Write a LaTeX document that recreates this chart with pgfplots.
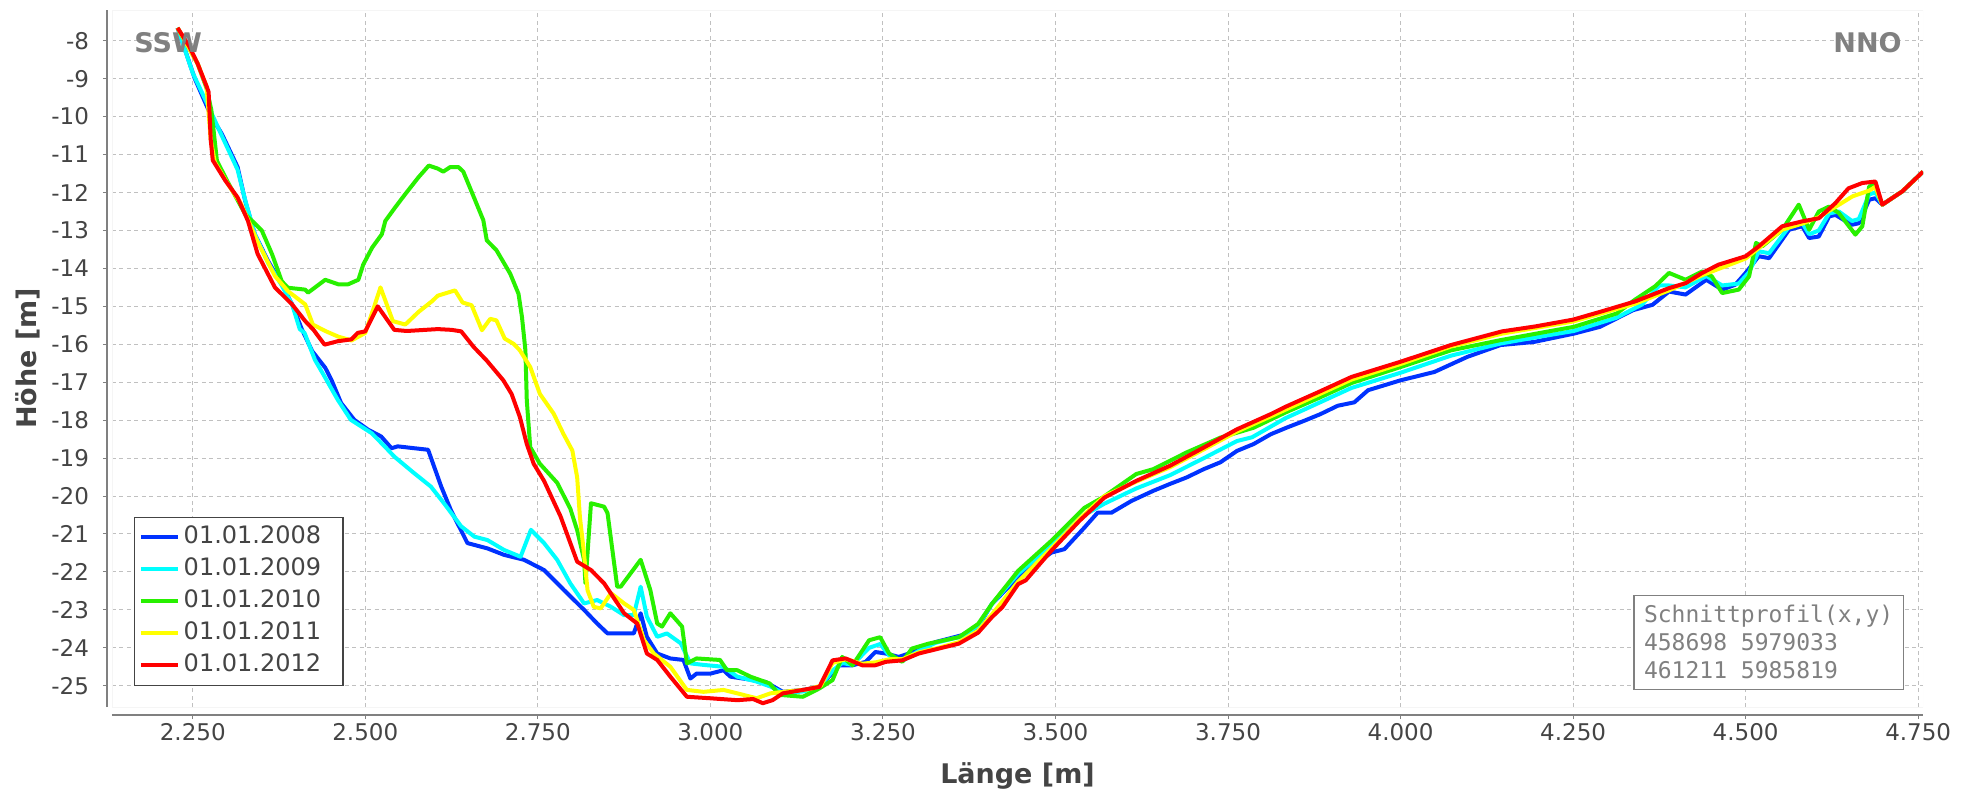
\documentclass[border=0pt]{standalone}
\usepackage{fontspec}
\setmainfont{DejaVu Sans}
\newfontfamily\monofont{DejaVu Sans Mono}
\usepackage{pgfplots}
\pgfplotsset{compat=1.18}

\definecolor{s2008}{RGB}{0,50,255}
\definecolor{s2009}{RGB}{0,255,255}
\definecolor{s2010}{RGB}{40,240,0}
\definecolor{s2011}{RGB}{255,255,0}
\definecolor{s2012}{RGB}{255,0,0}
\definecolor{txtgray}{RGB}{68,68,68}
\definecolor{axgray}{RGB}{128,128,128}
\definecolor{gridgray}{RGB}{192,192,192}

\newcommand{\entry}[1]{\makebox[75.5pt][l]{#1}}

\begin{document}
\begin{tikzpicture}
  \begin{axis}[
      scale only axis,
      width=905.5pt, height=348.5pt,
      xmin=2.133, xmax=4.757,
      ymin=-25.56, ymax=-7.19,
      axis x line=bottom, axis y line=left,
      axis x line shift=4pt, axis y line shift=2.5pt,
      axis line style={-, draw=axgray, line width=1pt},
      xtick={2.25,2.5,2.75,3,3.25,3.5,3.75,4,4.25,4.5,4.75},
      ytick={-25,-24,...,-8},
      xticklabel={\pgfmathprintnumber[fixed,fixed zerofill,precision=3]{\tick}},
      /pgf/number format/assume math mode=true,
      tick label style={font=\fontsize{11.5}{13}\selectfont, text=txtgray},
      xticklabel style={yshift=1.5pt},
      yticklabel style={xshift=-3.5pt},
      tick style={draw=axgray, line width=0.5pt},
      major tick length=2pt,
      tick align=outside,
      grid=major,
      major grid style={draw=gridgray, line width=0.5pt, dash pattern=on 2pt off 1.75pt},
      xlabel={Länge [m]}, ylabel={Höhe [m]},
      every axis x label/.style={at={(rel axis cs:0.5,0)}, yshift=-34.5pt, anchor=center,
        font=\bfseries\fontsize{13.5}{16}\selectfont, text=txtgray},
      every axis y label/.style={at={(rel axis cs:0,0.5)}, xshift=-42pt, rotate=90, anchor=center,
        font=\bfseries\fontsize{13.5}{16}\selectfont, text=txtgray},
      every axis plot/.append style={line width=2pt, line join=round, mark=none},
      legend cell align=left,
      legend image code/.code={\draw[#1, line width=2pt] (0pt,0pt) -- (18.5pt,0pt);},
      legend style={at={(rel axis cs:0,0)}, anchor=south west, xshift=11pt, yshift=10.5pt,
        draw=txtgray, line width=0.75pt, fill=white, inner xsep=2pt, inner ysep=2pt,
        font=\fontsize{12}{14}\selectfont, text=txtgray, row sep=0pt,
        nodes={inner sep=2pt, text height=9pt, text depth=3pt}},
    ]
    \coordinate (bl) at (rel axis cs:0,0);
    \coordinate (tr) at (rel axis cs:1,1);
    \draw[gray!8] (rel axis cs:0,0) rectangle (rel axis cs:1,1);

    % 01.01.2008
    \addplot[s2008] coordinates {
        (2.228,-7.66) (2.253,-9.0) (2.277,-10.0) (2.292,-10.45) (2.315,-11.33)
        (2.326,-12.22) (2.34,-13.1) (2.359,-13.8) (2.379,-14.42) (2.394,-14.95)
        (2.408,-15.6) (2.423,-16.18) (2.442,-16.62) (2.451,-16.94) (2.465,-17.55)
        (2.484,-17.99) (2.504,-18.25) (2.523,-18.43) (2.538,-18.74) (2.547,-18.69)
        (2.571,-18.74) (2.591,-18.78) (2.61,-19.75) (2.624,-20.37) (2.648,-21.24)
        (2.677,-21.38) (2.701,-21.55) (2.73,-21.68) (2.759,-21.95) (2.788,-22.48)
        (2.817,-23.0) (2.836,-23.36) (2.851,-23.62) (2.889,-23.62) (2.899,-23.09)
        (2.908,-23.71) (2.923,-24.15) (2.942,-24.28) (2.961,-24.32) (2.971,-24.81)
        (2.98,-24.68) (3.0,-24.68) (3.019,-24.59) (3.029,-24.76) (3.062,-24.85)
        (3.08,-24.9) (3.105,-25.16) (3.134,-25.11) (3.158,-25.03) (3.187,-24.46)
        (3.206,-24.46) (3.225,-24.37) (3.239,-24.11) (3.254,-24.15) (3.273,-24.24)
        (3.302,-24.06) (3.326,-23.85) (3.364,-23.67) (3.388,-23.45) (3.408,-22.84)
        (3.446,-22.14) (3.494,-21.49) (3.513,-21.4) (3.542,-20.83) (3.561,-20.44)
        (3.581,-20.44) (3.61,-20.13) (3.642,-19.86) (3.666,-19.68) (3.69,-19.51)
        (3.715,-19.29) (3.739,-19.11) (3.763,-18.81) (3.787,-18.63) (3.812,-18.37)
        (3.836,-18.19) (3.86,-18.02) (3.884,-17.84) (3.909,-17.62) (3.933,-17.53)
        (3.953,-17.21) (4.0,-16.95) (4.049,-16.73) (4.097,-16.33) (4.145,-16.02)
        (4.193,-15.94) (4.251,-15.72) (4.289,-15.54) (4.337,-15.1) (4.365,-14.96)
        (4.389,-14.61) (4.413,-14.69) (4.443,-14.3) (4.466,-14.56) (4.485,-14.43)
        (4.5,-14.12) (4.519,-13.68) (4.534,-13.73) (4.563,-12.98) (4.582,-12.89)
        (4.592,-13.2) (4.606,-13.16) (4.621,-12.63) (4.63,-12.59) (4.654,-12.85)
        (4.664,-12.81) (4.679,-12.19) (4.688,-12.15) (4.698,-12.32) (4.727,-11.97)
        (4.757,-11.45)
      };
    \addlegendentry{\entry{01.01.2008}}

    % 01.01.2009
    \addplot[s2009] coordinates {
        (2.228,-7.66) (2.25,-8.85) (2.272,-9.7) (2.292,-10.5) (2.315,-11.4)
        (2.326,-12.2) (2.34,-13.1) (2.359,-13.85) (2.379,-14.45) (2.394,-14.95)
        (2.405,-15.6) (2.412,-15.7) (2.427,-16.41) (2.441,-16.85) (2.46,-17.46)
        (2.479,-17.99) (2.509,-18.34) (2.528,-18.69) (2.542,-18.96) (2.571,-19.4)
        (2.595,-19.75) (2.614,-20.19) (2.639,-20.8) (2.658,-21.07) (2.677,-21.16)
        (2.701,-21.42) (2.725,-21.6) (2.74,-20.89) (2.759,-21.24) (2.778,-21.68)
        (2.797,-22.3) (2.817,-22.83) (2.836,-22.74) (2.856,-22.92) (2.875,-23.14)
        (2.889,-23.14) (2.899,-22.39) (2.908,-23.18) (2.923,-23.71) (2.937,-23.62)
        (2.957,-23.88) (2.971,-24.41) (2.99,-24.45) (3.019,-24.5) (3.039,-24.76)
        (3.067,-24.89) (3.087,-25.02) (3.106,-25.2) (3.134,-25.15) (3.158,-25.05)
        (3.177,-24.6) (3.191,-24.4) (3.206,-24.45) (3.23,-24.0) (3.246,-23.9)
        (3.259,-24.2) (3.278,-24.35) (3.302,-24.08) (3.326,-23.87) (3.364,-23.7)
        (3.388,-23.42) (3.408,-22.84) (3.446,-22.05) (3.494,-21.3) (3.542,-20.5)
        (3.571,-20.2) (3.617,-19.8) (3.666,-19.45) (3.715,-19.0) (3.763,-18.55)
        (3.785,-18.45) (3.833,-17.95) (3.881,-17.55) (3.929,-17.15) (4.0,-16.75)
        (4.073,-16.3) (4.145,-15.98) (4.195,-15.82) (4.251,-15.65) (4.313,-15.3)
        (4.35,-14.95) (4.375,-14.45) (4.389,-14.45) (4.413,-14.5) (4.443,-14.2)
        (4.466,-14.45) (4.49,-14.4) (4.505,-14.1) (4.519,-13.55) (4.534,-13.6)
        (4.563,-12.9) (4.582,-12.8) (4.592,-13.1) (4.606,-13.0) (4.621,-12.55)
        (4.635,-12.5) (4.654,-12.75) (4.664,-12.7) (4.679,-12.05) (4.688,-12.0)
        (4.698,-12.32) (4.727,-11.97) (4.757,-11.45)
      };
    \addlegendentry{\entry{01.01.2009}}

    % 01.01.2010
    \addplot[s2010] coordinates {
        (2.228,-7.66) (2.257,-8.6) (2.27,-9.25) (2.277,-9.83) (2.285,-11.16)
        (2.3,-11.7) (2.326,-12.57) (2.35,-13.0) (2.365,-13.63) (2.379,-14.34)
        (2.388,-14.51) (2.413,-14.56) (2.417,-14.64) (2.442,-14.3) (2.461,-14.42)
        (2.475,-14.42) (2.49,-14.3) (2.497,-13.9) (2.51,-13.45) (2.524,-13.1)
        (2.529,-12.75) (2.543,-12.4) (2.558,-12.04) (2.577,-11.6) (2.592,-11.29)
        (2.605,-11.37) (2.613,-11.45) (2.623,-11.33) (2.635,-11.33) (2.642,-11.45)
        (2.657,-12.11) (2.671,-12.73) (2.676,-13.26) (2.69,-13.52) (2.71,-14.14)
        (2.722,-14.67) (2.727,-15.28) (2.732,-16.16) (2.734,-17.48) (2.739,-18.71)
        (2.753,-19.15) (2.778,-19.65) (2.797,-20.33) (2.807,-20.9) (2.817,-21.68)
        (2.819,-22.3) (2.827,-20.19) (2.846,-20.28) (2.851,-20.45) (2.865,-22.39)
        (2.87,-22.39) (2.899,-21.68) (2.913,-22.48) (2.923,-23.36) (2.93,-23.44)
        (2.942,-23.09) (2.959,-23.44) (2.966,-24.41) (2.98,-24.28) (3.014,-24.32)
        (3.024,-24.59) (3.039,-24.59) (3.058,-24.76) (3.086,-24.94) (3.1,-25.24)
        (3.134,-25.29) (3.158,-25.07) (3.177,-24.85) (3.191,-24.24) (3.206,-24.46)
        (3.23,-23.8) (3.246,-23.72) (3.259,-24.15) (3.278,-24.37) (3.292,-24.02)
        (3.316,-23.89) (3.36,-23.72) (3.388,-23.37) (3.408,-22.84) (3.446,-21.97)
        (3.494,-21.18) (3.542,-20.31) (3.569,-20.03) (3.617,-19.42) (3.642,-19.29)
        (3.69,-18.85) (3.739,-18.46) (3.787,-18.2) (3.833,-17.8) (3.881,-17.42)
        (3.929,-17.02) (4.0,-16.6) (4.073,-16.16) (4.145,-15.89) (4.251,-15.54)
        (4.313,-15.19) (4.34,-14.82) (4.369,-14.47) (4.389,-14.12) (4.413,-14.3)
        (4.437,-14.08) (4.451,-14.21) (4.466,-14.65) (4.49,-14.56) (4.505,-14.21)
        (4.515,-13.33) (4.524,-13.42) (4.553,-12.98) (4.577,-12.32) (4.592,-12.98)
        (4.606,-12.5) (4.621,-12.37) (4.635,-12.54) (4.659,-13.11) (4.669,-12.89)
        (4.679,-11.84) (4.687,-11.8) (4.698,-12.32) (4.727,-11.97) (4.757,-11.45)
      };
    \addlegendentry{\entry{01.01.2010}}

    % 01.01.2011
    \addplot[s2011] coordinates {
        (2.228,-7.66) (2.257,-8.6) (2.27,-9.2) (2.276,-10.6) (2.282,-11.2)
        (2.3,-11.75) (2.32,-12.3) (2.344,-13.3) (2.369,-14.2) (2.388,-14.6)
        (2.413,-14.95) (2.424,-15.48) (2.442,-15.65) (2.461,-15.8) (2.48,-15.9)
        (2.5,-15.7) (2.513,-15.0) (2.522,-14.5) (2.54,-15.39) (2.558,-15.48)
        (2.577,-15.15) (2.597,-14.86) (2.605,-14.72) (2.63,-14.58) (2.641,-14.9)
        (2.654,-14.97) (2.669,-15.63) (2.681,-15.33) (2.69,-15.37) (2.702,-15.85)
        (2.715,-15.99) (2.724,-16.16) (2.739,-16.6) (2.753,-17.31) (2.773,-17.83)
        (2.787,-18.36) (2.8,-18.8) (2.807,-19.51) (2.811,-20.56) (2.816,-21.36)
        (2.822,-22.48) (2.831,-22.92) (2.841,-22.96) (2.856,-22.56) (2.875,-22.83)
        (2.889,-23.0) (2.904,-23.8) (2.918,-24.15) (2.942,-24.5) (2.966,-25.11)
        (2.99,-25.16) (3.019,-25.11) (3.039,-25.2) (3.067,-25.33) (3.087,-25.2)
        (3.11,-25.15) (3.14,-25.1) (3.16,-25.0) (3.177,-24.4) (3.196,-24.3)
        (3.22,-24.42) (3.24,-24.38) (3.26,-24.3) (3.278,-24.3) (3.302,-24.12)
        (3.331,-24.0) (3.36,-23.85) (3.388,-23.55) (3.408,-23.12) (3.446,-22.25)
        (3.494,-21.38) (3.535,-20.6) (3.571,-20.0) (3.617,-19.62) (3.666,-19.24)
        (3.715,-18.77) (3.763,-18.3) (3.812,-17.9) (3.86,-17.5) (3.929,-16.93)
        (4.0,-16.52) (4.073,-16.06) (4.147,-15.72) (4.25,-15.4) (4.34,-14.93)
        (4.389,-14.58) (4.437,-14.18) (4.5,-13.74) (4.553,-12.98) (4.582,-12.82)
        (4.606,-12.65) (4.63,-12.38) (4.655,-12.1) (4.679,-11.95) (4.688,-11.85)
        (4.698,-12.32) (4.727,-11.97) (4.757,-11.45)
      };
    \addlegendentry{\entry{01.01.2011}}

    % 01.01.2012
    \addplot[s2012] coordinates {
        (2.228,-7.66) (2.245,-8.15) (2.257,-8.6) (2.27,-9.2) (2.273,-9.35)
        (2.276,-10.6) (2.279,-11.15) (2.297,-11.68) (2.315,-12.13) (2.33,-12.75)
        (2.344,-13.62) (2.369,-14.5) (2.394,-14.95) (2.413,-15.39) (2.425,-15.62)
        (2.441,-16.01) (2.46,-15.92) (2.48,-15.87) (2.489,-15.7) (2.5,-15.66)
        (2.518,-15.0) (2.542,-15.62) (2.56,-15.65) (2.587,-15.62) (2.605,-15.6)
        (2.625,-15.62) (2.639,-15.66) (2.657,-16.07) (2.676,-16.43) (2.7,-16.95)
        (2.712,-17.31) (2.724,-17.92) (2.734,-18.63) (2.744,-19.15) (2.759,-19.6)
        (2.783,-20.54) (2.807,-21.73) (2.827,-21.95) (2.846,-22.3) (2.875,-23.09)
        (2.894,-23.36) (2.908,-24.15) (2.923,-24.32) (2.942,-24.76) (2.966,-25.29)
        (3.0,-25.33) (3.039,-25.38) (3.062,-25.35) (3.076,-25.46) (3.09,-25.38)
        (3.105,-25.2) (3.134,-25.11) (3.158,-25.03) (3.177,-24.33) (3.196,-24.28)
        (3.22,-24.46) (3.239,-24.46) (3.254,-24.37) (3.278,-24.33) (3.302,-24.15)
        (3.331,-24.02) (3.36,-23.89) (3.388,-23.6) (3.408,-23.19) (3.423,-22.93)
        (3.446,-22.32) (3.457,-22.22) (3.494,-21.44) (3.535,-20.65) (3.571,-20.04)
        (3.617,-19.6) (3.666,-19.2) (3.715,-18.72) (3.763,-18.24) (3.812,-17.84)
        (3.833,-17.65) (3.881,-17.26) (3.929,-16.86) (4.0,-16.46) (4.073,-16.02)
        (4.147,-15.66) (4.195,-15.53) (4.25,-15.35) (4.292,-15.13) (4.34,-14.87)
        (4.389,-14.52) (4.413,-14.39) (4.437,-14.12) (4.461,-13.9) (4.5,-13.68)
        (4.519,-13.42) (4.553,-12.89) (4.582,-12.76) (4.606,-12.68) (4.63,-12.28)
        (4.649,-11.89) (4.669,-11.75) (4.688,-11.71) (4.698,-12.32) (4.727,-11.97)
        (4.757,-11.45)
      };
    \addlegendentry{\entry{01.01.2012}}

    \node[anchor=west, inner sep=0pt, font=\bfseries\fontsize{13.5}{16}\selectfont, text=axgray]
      at ([shift={(11pt,-16.5pt)}]rel axis cs:0,1) {SSW};
    \node[anchor=east, inner sep=0pt, font=\bfseries\fontsize{13.5}{16}\selectfont, text=axgray]
      at ([shift={(-10.5pt,-16.5pt)}]rel axis cs:1,1) {NNO};
    \node[anchor=south east, draw=axgray, line width=0.75pt, fill=white, align=left,
      inner xsep=5pt, inner ysep=5pt, text=axgray,
      font=\monofont\fontsize{11.5}{14}\selectfont]
      at ([shift={(-9.5pt,8.5pt)}]rel axis cs:1,0)
      {Schnittprofil(x,y)\\458698 5979033\\461211 5985819};
  \end{axis}
  \pgfresetboundingbox
  \path ([shift={(-56pt,-41pt)}]bl) rectangle ([shift={(23pt,5pt)}]tr);
\end{tikzpicture}
\end{document}
